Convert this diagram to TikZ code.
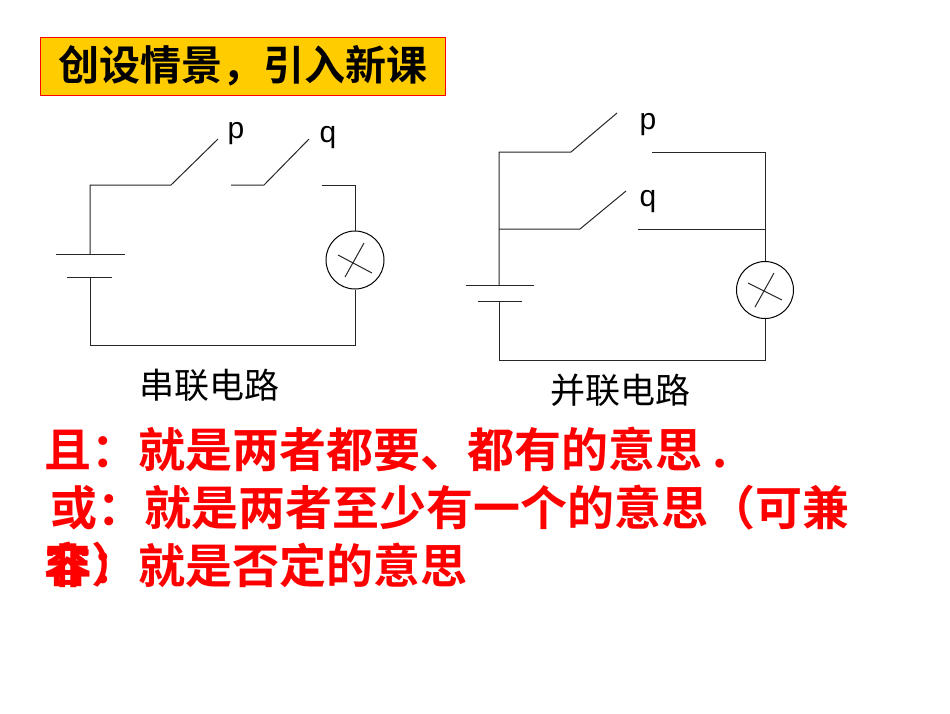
\documentclass[tikz,border=0pt]{standalone}
\usepackage{fontspec}
\setmainfont{Liberation Sans}
\newfontfamily\cjk{Noto Sans CJK SC}
\newfontfamily\cjkb{Noto Sans CJK SC Bold}
\definecolor{tred}{RGB}{255,0,0}
\definecolor{tyel}{RGB}{255,204,0}
\begin{document}
\begin{tikzpicture}[x=1pt,y=-1pt,
  wire/.style={line width=1pt,black!85},
  lbl/.style={font=\fontsize{30}{30}\selectfont,inner sep=0},
  captxt/.style={font=\cjk\fontsize{35}{35}\selectfont,inner sep=0},
  redtxt/.style={font=\cjkb\fontsize{47}{47}\selectfont,text=tred,inner sep=0,anchor=west}]
\useasboundingbox (0,0) rectangle (950,713);
\fill[white] (0,0) rectangle (950,713);
% title
\node[draw=tred,fill=tyel,line width=1pt,minimum width=405,minimum height=58,inner sep=0,
  font=\cjkb\fontsize{41}{41}\selectfont] (title) at (242.5,66) {创设情景，引入新课};
% series circuit
\coordinate (s1) at (90,185); \coordinate (s2) at (171,185); \coordinate (s3) at (218,139);
\coordinate (s4) at (231,185); \coordinate (s5) at (264,185); \coordinate (s6) at (309,139);
\coordinate (s7) at (322,185); \coordinate (s8) at (355,185);
\node[draw,circle,minimum size=58,inner sep=0,line width=1pt] (L1) at (355,260) {};
\coordinate (s9) at (355,345); \coordinate (s10) at (90,345);
\coordinate (bA) at (90,254); \coordinate (bB) at (90,277);
\draw[wire] (bA) -- (s1) -- (s2) -- (s3);
\draw[wire] (s4) -- (s5) -- (s6);
\draw[wire] (s7) -- (s8) -- (L1.north);
\draw[wire] (L1.south) -- (s9) -- (s10) -- (bB);
\draw[wire] (56,254) -- (125,254);
\draw[wire] (67,277) -- (112,277);
\draw[wire] (345,277) -- (364,243);
\draw[wire] (338,255) -- (372,273);
\node[lbl] (p1) at (236,134) {p};
\node[lbl] (q1) at (328,138) {q};
\node[captxt] (c1) at (209,385) {串联电路};
% parallel circuit
\coordinate (t1) at (499,152); \coordinate (t2) at (571,152); \coordinate (t3) at (617,113);
\coordinate (t4) at (652,152); \coordinate (t5) at (765,152);
\coordinate (m1) at (499,229); \coordinate (m2) at (580,229); \coordinate (m3) at (626,191);
\coordinate (m4) at (638,229); \coordinate (m5) at (765,229);
\node[draw,circle,minimum size=57,inner sep=0,line width=1pt] (L2) at (765,290) {};
\coordinate (u1) at (765,360); \coordinate (u2) at (499,360);
\coordinate (cA) at (499,285); \coordinate (cB) at (499,301);
\draw[wire] (cA) -- (t1) -- (t2) -- (t3);
\draw[wire] (m1) -- (m2) -- (m3);
\draw[wire] (t4) -- (t5) -- (m5) -- (L2.north);
\draw[wire] (m4) -- (m5);
\draw[wire] (L2.south) -- (u1) -- (u2) -- (cB);
\draw[wire] (466,285) -- (534,285);
\draw[wire] (478,301) -- (522,301);
\draw[wire] (755,307) -- (774,273);
\draw[wire] (748,283) -- (782,300);
\node[lbl] (p2) at (648,125) {p};
\node[lbl] (q2) at (648,202) {q};
\node[captxt] (c2) at (620,390) {并联电路};
% red text
\node[redtxt] (r1) at (44,449) {且：就是两者都要、都有的意思 .};
\node[redtxt] (r2) at (50,508) {或：就是两者至少有一个的意思（可兼};
\node[redtxt] (r3a) at (44,565) {容）};
\node[redtxt] (r3b) at (44,565) {非：就是否定的意思};
\end{tikzpicture}
\end{document}
